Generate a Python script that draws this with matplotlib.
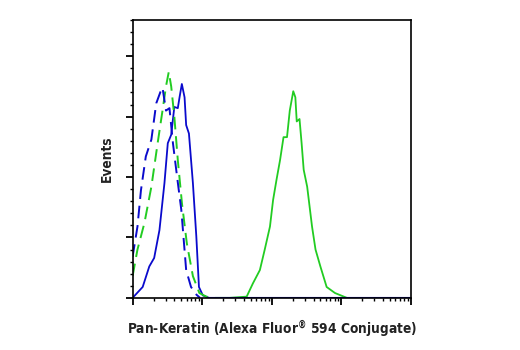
import numpy as np
import matplotlib
matplotlib.use("Agg")
import matplotlib.pyplot as plt
from matplotlib.ticker import LogLocator, MultipleLocator, NullFormatter

# log10 of intensity, events
blue_solid_x = [1.0, 1.145, 1.24, 1.31, 1.386, 1.458, 1.506, 1.555, 1.60, 1.65, 1.675, 1.708,
                1.747, 1.77, 1.81, 1.867, 1.916, 1.954, 2.01, 2.1, 5.0]
blue_solid_y = [0, 9, 26, 33, 56, 95, 128, 135, 158, 157, 166, 177,
                166, 143, 136, 95, 51, 9, 2, 0, 0]

blue_dash_x = [1.0, 1.07, 1.12, 1.19, 1.27, 1.34, 1.41, 1.43, 1.48, 1.53, 1.58, 1.64,
               1.70, 1.77, 1.84, 1.92, 1.97]
blue_dash_y = [34, 59, 89, 117, 131, 161, 172, 174, 155, 157, 128, 100,
               73, 23, 9, 2.5, 0]

green_dash_x = [1.0, 1.07, 1.17, 1.27, 1.36, 1.43, 1.48, 1.52, 1.555, 1.60, 1.65, 1.71,
                1.78, 1.867, 1.96, 2.06, 2.15]
green_dash_y = [18, 40, 62, 92, 128, 155, 175, 187, 175, 150, 114, 78,
                45, 18, 4, 1, 0]

green_solid_x = [2.2, 2.397, 2.64, 2.73, 2.83, 2.90, 2.975, 3.02, 3.07, 3.12, 3.17, 3.22,
                 3.26, 3.31, 3.34, 3.36, 3.40, 3.43, 3.46, 3.51, 3.58, 3.63, 3.70,
                 3.79, 3.91, 4.08]
green_solid_y = [0, 0, 1, 12, 23, 40, 59, 81, 98, 114, 133, 133,
                 155, 171, 166, 146, 148, 128, 106, 92, 59, 40, 26,
                 9, 4, 0]

blue = '#0a0acc'
green = '#22cc22'

fig = plt.figure(figsize=(5.2, 3.5), dpi=100)
ax = fig.add_axes([0.255, 0.149, 0.535, 0.794])

ax.plot(10 ** np.array(green_solid_x), green_solid_y, color=green, lw=1.3)
ax.plot(10 ** np.array(blue_solid_x), blue_solid_y, color=blue, lw=1.3)
ax.plot(10 ** np.array(green_dash_x), green_dash_y, color=green, lw=1.4, dashes=(6.5, 3.5))
ax.plot(10 ** np.array(blue_dash_x), blue_dash_y, color=blue, lw=1.4, dashes=(6.5, 3.5))

ax.set_xscale('log')
ax.set_xlim(10, 1e5)
ax.set_ylim(0, 230)

ax.xaxis.set_major_locator(LogLocator(base=10, numticks=10))
ax.xaxis.set_minor_locator(LogLocator(base=10, subs=np.arange(2, 10), numticks=20))
ax.xaxis.set_major_formatter(NullFormatter())
ax.xaxis.set_minor_formatter(NullFormatter())
ax.yaxis.set_major_locator(MultipleLocator(50))
ax.yaxis.set_minor_locator(MultipleLocator(10))
ax.yaxis.set_major_formatter(NullFormatter())

ax.tick_params(which='major', direction='out', length=5, width=1.3, color='black')
ax.tick_params(which='minor', direction='out', length=2.5, width=1.0, color='black')
for s in ax.spines.values():
    s.set_linewidth(1.2)

lbl = dict(family='DejaVu Sans', fontstretch='condensed', fontweight='bold',
           fontsize=9.8, color='#222222')
ax.set_ylabel('Events', labelpad=5, **lbl)
ax.set_xlabel(r'Pan-Keratin (Alexa Fluor$^{\mathregular{®}}$ 594 Conjugate)', labelpad=6, **lbl)

fig.savefig('out.png', dpi=100)
